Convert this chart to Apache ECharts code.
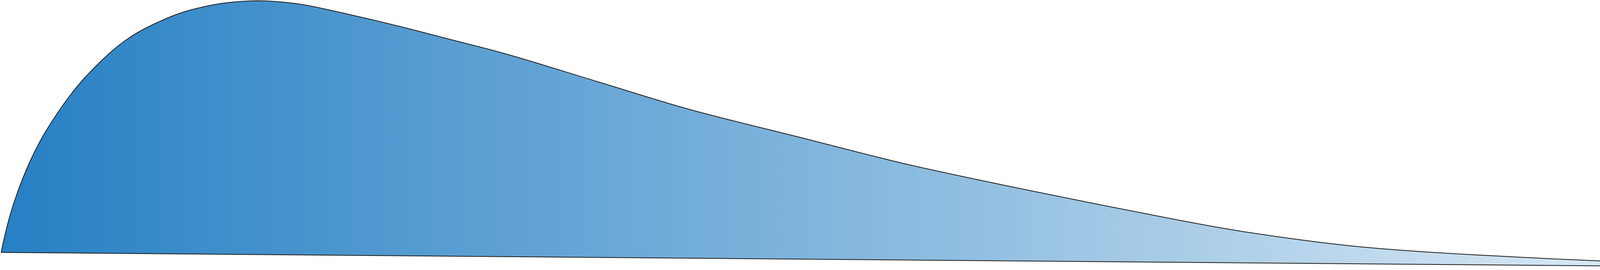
<!DOCTYPE html>
<html>
<head>
<meta charset="utf-8">
<script src="https://cdn.jsdelivr.net/npm/echarts@6/dist/echarts.min.js"></script>
<style>
  html, body { margin: 0; padding: 0; background: #fff; }
  #chart { width: 5003px; height: 691px; }
</style>
</head>
<body>
<div id="chart"></div>
<script>
  // upper outline of the shape (x, height above the bottom edge)
  const curveX = [3, 13, 26, 42, 61, 83, 109, 140, 175, 216, 276, 326, 383, 463, 542, 600, 660,
    720, 782, 877, 1021, 1149, 1302, 1533, 1765, 2042, 2320, 2648, 3000, 3191, 3446,
    3669, 3989, 4200, 4400, 4600, 5003];
  const curveY = [45, 91, 141, 191, 241, 291, 341, 391, 441, 491, 551, 591, 624, 658, 678, 686, 689,
    686, 678, 658, 624, 591, 551, 481, 411, 341, 271, 201, 131, 97, 63,
    45, 28, 19, 12, 7, 3.5];

  // slanted base line
  const baseX = [3, 5003];
  const baseY = [45, 3];

  const chart = echarts.init(document.getElementById('chart'));

  const curve = curveX.map((x, i) => [x, curveY[i]]);
  const base = baseX.map((x, i) => [x, baseY[i]]);

  chart.setOption({
    animation: false,
    grid: {left: 0, right: 0, top: 0, bottom: 0},
    xAxis: {type: 'value', min: 0, max: 5003, show: false},
    yAxis: {type: 'value', min: 0, max: 691, show: false},
    series: [
      {
        type: 'line',
        data: curve,
        smooth: 0.33,
        symbol: 'none',
        clip: false,
        z: 2,
        lineStyle: {color: '#1d1d1b', width: 2},
        areaStyle: {
          opacity: 1,
          color: new echarts.graphic.LinearGradient(0, 0, 1, 0, [
            {offset: 0, color: '#2680c4'},
            {offset: 1, color: '#ffffff'}
          ])
        }
      },
      {
        type: 'line',
        data: base,
        symbol: 'none',
        clip: false,
        z: 3,
        lineStyle: {color: '#1d1d1b', width: 2},
        areaStyle: {color: '#ffffff', opacity: 1}
      }
    ]
  });
</script>
</body>
</html>
